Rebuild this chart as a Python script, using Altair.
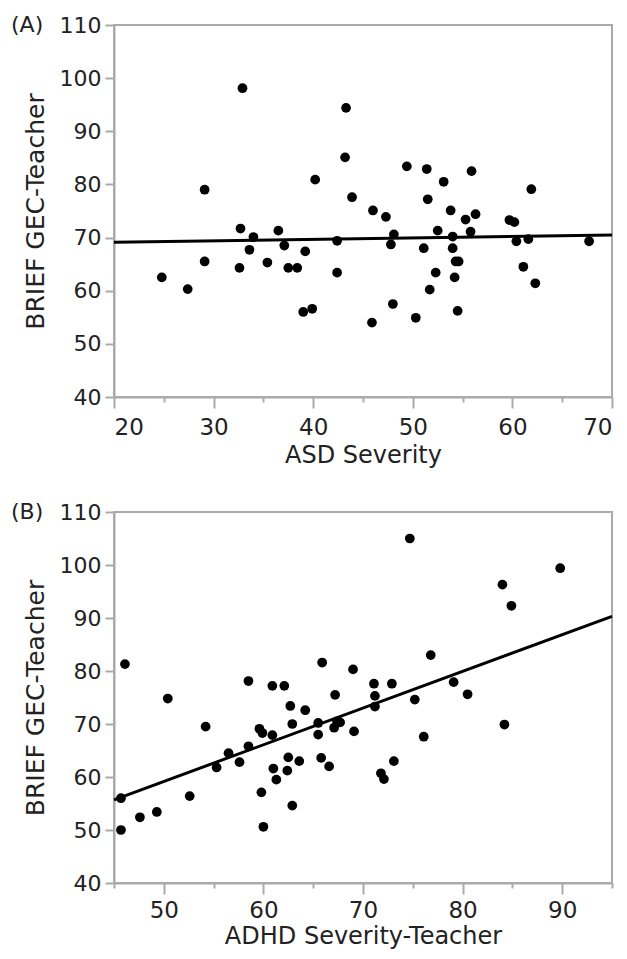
import altair as alt
import pandas as pd

FONT = "DejaVu Sans"

# Panel A: ASD Severity vs BRIEF GEC-Teacher
asd_x = [24.8, 27.4, 29.1, 29.1, 32.6, 32.7, 32.9, 33.6, 34.0, 35.4, 36.5, 37.1, 37.5, 38.4,
         39.0, 39.2, 39.9, 40.2, 42.4, 42.4, 43.2, 43.3, 43.9, 45.9, 46.0, 47.3, 47.8, 48.0,
         48.1, 49.4, 50.3, 51.1, 51.4, 51.5, 51.7, 52.3, 52.5, 53.1, 53.8, 54.0, 54.0, 54.2,
         54.3, 54.6, 54.5, 55.3, 55.8, 55.9, 56.3, 59.7, 60.2, 60.4, 61.1, 61.6, 61.9, 62.3, 67.7]
asd_y = [62.5, 60.3, 65.5, 79.0, 64.3, 71.7, 98.1, 67.7, 70.1, 65.3, 71.3, 68.5, 64.3, 64.3,
         56.0, 67.4, 56.6, 80.9, 69.4, 63.4, 85.1, 94.4, 77.6, 54.0, 75.1, 73.9, 68.7, 57.5,
         70.6, 83.4, 54.9, 68.0, 82.9, 77.2, 60.2, 63.4, 71.3, 80.5, 75.1, 70.2, 68.0, 62.5,
         65.5, 65.5, 56.2, 73.4, 71.1, 82.5, 74.4, 73.3, 72.9, 69.3, 64.5, 69.7, 79.1, 61.4, 69.3]
asd_fit_x = [20, 70]
asd_fit_y = [69.1, 70.5]

# Panel B: ADHD Severity-Teacher vs BRIEF GEC-Teacher
adhd_x = [45.7, 45.7, 46.1, 47.6, 49.3, 50.4, 52.6, 54.2, 55.3, 56.5, 57.6, 58.5, 58.5, 59.6,
          59.9, 59.8, 60.0, 60.9, 61.0, 61.3, 60.9, 62.1, 62.7, 62.9, 62.5, 62.4, 63.6, 62.9,
          64.2, 65.5, 65.5, 65.8, 65.9, 66.6, 67.1, 67.2, 67.4, 67.7, 69.0, 69.1, 71.1, 71.2,
          71.2, 71.8, 72.1, 72.9, 73.1, 74.7, 75.2, 76.1, 76.8, 79.1, 80.5, 84.0, 84.2, 84.9, 89.8]
adhd_y = [56.0, 50.0, 81.3, 52.4, 53.4, 74.8, 56.4, 69.5, 61.8, 64.5, 62.8, 65.8, 78.1, 69.1,
          68.3, 57.1, 50.6, 67.9, 61.6, 59.5, 77.2, 77.2, 73.4, 70.0, 63.7, 61.2, 63.0, 54.6,
          72.6, 70.2, 68.0, 63.6, 81.6, 62.0, 69.3, 75.5, 70.5, 70.3, 80.3, 68.6, 77.6, 75.3,
          73.3, 60.7, 59.6, 77.6, 63.0, 105.0, 74.6, 67.6, 83.0, 77.9, 75.6, 96.3, 69.9, 92.3, 99.4]
adhd_fit_x = [45, 95]
adhd_fit_y = [55.7, 90.3]

y_ticks = [40, 50, 60, 70, 80, 90, 100, 110]
Y_TITLE = "BRIEF GEC-Teacher"

W = 498


def y_axis():
    return alt.Axis(values=y_ticks, tickSize=9, labelFontSize=22, labelFlush=False,
                    labelPadding=4, titlePadding=11, titleFontSize=25)


def panel(xs, ys, fx, fy, xdom, major, minor, xtitle, tag, h, lpad, tpad, flush):
    pts = pd.DataFrame({"x": xs, "y": ys})
    fit = pd.DataFrame({"x": fx, "y": fy})
    xscale = alt.Scale(domain=xdom, nice=False, zero=False)
    yscale = alt.Scale(domain=[40, 110], nice=False, zero=False)
    points = alt.Chart(pts).mark_circle(size=95, color="black", opacity=1).encode(
        x=alt.X("x:Q", scale=xscale, title=xtitle,
                axis=alt.Axis(values=major, tickSize=11, orient="bottom", labelFontSize=23,
                              labelFlush=flush, labelPadding=lpad, titlePadding=tpad,
                              titleFontSize=24)),
        y=alt.Y("y:Q", scale=yscale, title=Y_TITLE, axis=y_axis()),
    )
    line = alt.Chart(fit).mark_line(color="black", strokeWidth=3).encode(
        x=alt.X("x:Q", scale=xscale, title=None,
                axis=alt.Axis(values=minor, tickSize=5, labels=False, domain=False,
                              orient="bottom")),
        y=alt.Y("y:Q", scale=yscale, title=Y_TITLE, axis=y_axis()),
    )
    lab = alt.Chart(pd.DataFrame({"t": [tag]})).mark_text(
        align="left", baseline="middle", fontSize=22, font=FONT, color="#222"
    ).encode(x=alt.value(-103), y=alt.value(0), text="t:N")
    return alt.layer(points, line, lab).resolve_axis(x="independent").properties(
        width=W, height=h)


a = panel(asd_x, asd_y, asd_fit_x, asd_fit_y, [20, 70],
          [20, 30, 40, 50, 60, 70], [25, 35, 45, 55, 65], "ASD Severity", "(A)",
          372, 8, 4, True)
b = panel(adhd_x, adhd_y, adhd_fit_x, adhd_fit_y, [45, 95],
          [50, 60, 70, 80, 90], [45, 55, 65, 75, 85, 95], "ADHD Severity-Teacher", "(B)",
          371, 5, 2, False)

chart = alt.vconcat(a, b, spacing=32).properties(
    padding={"left": 2, "top": 5, "right": 0, "bottom": 0}
).configure_view(stroke="#aaa", strokeWidth=2).configure_axis(
    grid=False, domainColor="#aaa", domainWidth=2, tickColor="#aaa", tickWidth=2,
    labelFont=FONT, titleFont=FONT, labelColor="#222", titleColor="#222",
    titleFontWeight="normal"
)

chart.save("out.html", embed_options={"renderer": "svg", "actions": False})
